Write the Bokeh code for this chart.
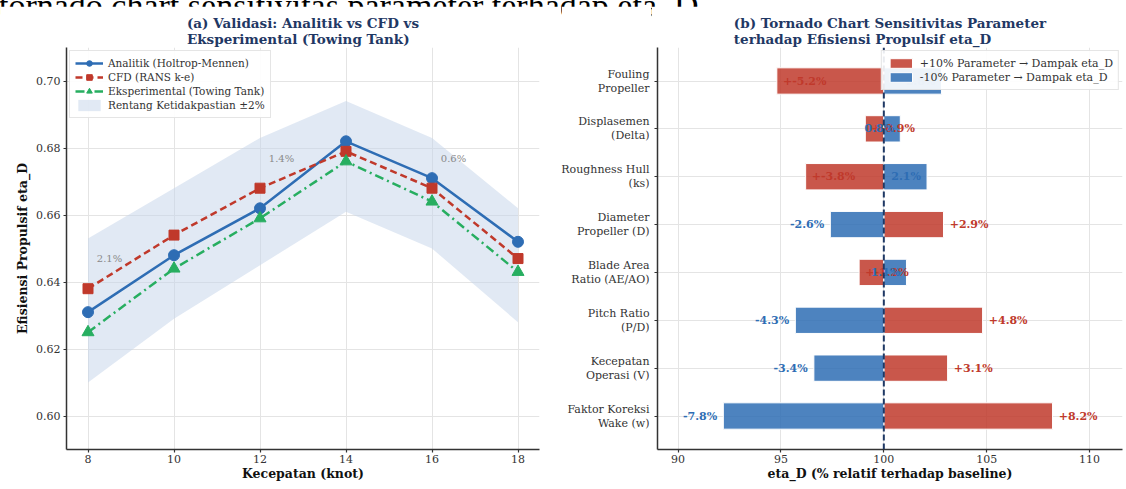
from bokeh.plotting import figure
from bokeh.models import (Legend, LegendItem, Span, Div, FixedTicker, Range1d,
                          NumeralTickFormatter)
from bokeh.layouts import row, column
from bokeh.embed import file_html
from bokeh.resources import INLINE
from bokeh.core.properties import value

# ---------------- data: panel (a) ----------------
speed = [8, 10, 12, 14, 16, 18]
analitik = [0.631, 0.648, 0.662, 0.682, 0.671, 0.652]
cfd = [0.638, 0.654, 0.668, 0.679, 0.668, 0.647]
eksperimental = [0.625, 0.644, 0.659, 0.676, 0.664, 0.643]
band_low = [0.610, 0.629, 0.645, 0.661, 0.650, 0.628]
band_high = [0.653, 0.668, 0.683, 0.694, 0.683, 0.662]
err_speed = [8, 12, 16]
err_labels = ["2.1%", "1.4%", "0.6%"]

# ---------------- data: panel (b) ----------------
params = ["Fouling\nPropeller", "Displasemen\n(Delta)", "Roughness Hull\n(ks)",
          "Diameter\nPropeller (D)", "Blade Area\nRatio (AE/AO)", "Pitch Ratio\n(P/D)",
          "Kecepatan\nOperasi (V)", "Faktor Koreksi\nWake (w)"]
plus10 = [-5.2, -0.9, -3.8, 2.9, -1.2, 4.8, 3.1, 8.2]
minus10 = [2.8, 0.8, 2.1, -2.6, 1.1, -4.3, -3.4, -7.8]
baseline = 100

FONT = "DejaVu Serif"
NAVY = "#1F3864"
BLUE = "#2E6DB4"
RED = "#C0392B"
GREEN = "#27AE60"
TXT = "#333333"
H = 477
TOP = 41
BOTTOM = 32


def style_axes(p):
    for ax in (p.xaxis[0], p.yaxis[0]):
        ax.axis_line_color = TXT
        ax.axis_line_width = 1.5
        ax.major_tick_line_color = TXT
        ax.major_tick_line_width = 1.2
        ax.major_tick_out = 3
        ax.major_tick_in = 0
        ax.minor_tick_line_color = None
        ax.major_label_text_font = FONT
        ax.major_label_text_font_size = "11px"
        ax.major_label_text_color = TXT
        ax.major_label_standoff = 2
        ax.axis_label_text_font = FONT
        ax.axis_label_text_font_size = "12.5px"
        ax.axis_label_text_font_style = "bold"
        ax.axis_label_text_color = "#111111"
        ax.axis_label_standoff = 0
    p.outline_line_color = None
    p.xgrid.grid_line_color = "#e4e4e4"
    p.ygrid.grid_line_color = "#e4e4e4"
    p.title.text_font = FONT
    p.title.text_font_size = "13.5px"
    p.title.text_font_style = "bold"
    p.title.text_color = NAVY
    p.title.align = "center"
    p.title.standoff = 2


# ---------------- panel (a) ----------------
p1 = figure(width=561, height=H, x_range=Range1d(7.5, 18.5), y_range=Range1d(0.59, 0.71),
            output_backend="svg", toolbar_location=None,
            min_border_left=66, min_border_right=22, min_border_top=TOP, min_border_bottom=BOTTOM,
            title="(a) Validasi: Analitik vs CFD vs\nEksperimental (Towing Tank)",
            x_axis_label="Kecepatan (knot)", y_axis_label="Efisiensi Propulsif eta_D")
style_axes(p1)
p1.yaxis.axis_label_standoff = 3
p1.yaxis.major_label_standoff = 3
p1.xaxis.ticker = FixedTicker(ticks=speed)
p1.yaxis.ticker = FixedTicker(ticks=[0.60, 0.62, 0.64, 0.66, 0.68, 0.70])
p1.yaxis.formatter = NumeralTickFormatter(format="0.00")

band = p1.varea(x=speed, y1=band_low, y2=band_high, fill_color="#c3d4ea", fill_alpha=0.5)
l1 = p1.line(speed, analitik, line_color=BLUE, line_width=2.5)
s1 = p1.scatter(speed, analitik, marker="circle", size=11, fill_color=BLUE, line_color=BLUE)
l2 = p1.line(speed, cfd, line_color=RED, line_width=2.5, line_dash="7 4")
s2 = p1.scatter(speed, cfd, marker="square", size=10, fill_color=RED, line_color=RED)
l3 = p1.line(speed, eksperimental, line_color=GREEN, line_width=2.5, line_dash="9 4 2 4")
s3 = p1.scatter(speed, eksperimental, marker="triangle", size=12, fill_color=GREEN, line_color=GREEN)

err_x = [s + 0.5 for s in err_speed]
err_y = [cfd[speed.index(s)] + 0.009 for s in err_speed]
p1.text(x=err_x, y=err_y, text=err_labels, text_font=value(FONT), text_font_size="10px",
        text_color="#8a8a8a", text_align="center", text_baseline="middle")

leg1 = Legend(items=[
    LegendItem(label="Analitik (Holtrop-Mennen)", renderers=[l1, s1]),
    LegendItem(label="CFD (RANS k-e)", renderers=[l2, s2]),
    LegendItem(label="Eksperimental (Towing Tank)", renderers=[l3, s3]),
    LegendItem(label="Rentang Ketidakpastian \u00b12%", renderers=[band]),
], location="top_left")
leg1.label_text_font = FONT
leg1.label_text_font_size = "10.5px"
leg1.label_text_color = TXT
leg1.margin = 3
leg1.padding = 5
leg1.spacing = 0
leg1.label_height = 14
leg1.glyph_height = 14
leg1.glyph_width = 28
leg1.border_line_color = "#cccccc"
leg1.background_fill_alpha = 0.9
p1.add_layout(leg1)

# ---------------- panel (b): category labels strip ----------------
ypos = [len(params) - 1 - i for i in range(len(params))]
yr = Range1d(-0.7, 7.7)
pl = figure(width=90, height=H, x_range=Range1d(0, 1), y_range=yr,
            output_backend="svg", toolbar_location=None,
            x_axis_location=None, y_axis_location=None,
            min_border_left=0, min_border_right=0, min_border_top=TOP, min_border_bottom=BOTTOM)
pl.outline_line_color = None
pl.grid.visible = False
first = [s.split("\n")[0] for s in params]
second = [s.split("\n")[1] for s in params]
for txt, dy in ((first, -7), (second, 7)):
    pl.text(x=[1] * len(params), y=ypos, text=txt, x_offset=-2, y_offset=dy,
            text_font=value(FONT), text_font_size="11px", text_color=TXT,
            text_align="right", text_baseline="middle")

# ---------------- panel (b): tornado ----------------
p2 = figure(width=473, height=H, x_range=Range1d(89, 111.6), y_range=yr,
            output_backend="svg", toolbar_location=None,
            min_border_left=6, min_border_right=2, min_border_top=TOP, min_border_bottom=BOTTOM,
            title="(b) Tornado Chart Sensitivitas Parameter\nterhadap Efisiensi Propulsif eta_D",
            x_axis_label="eta_D (% relatif terhadap baseline)")
style_axes(p2)
p2.xaxis.ticker = FixedTicker(ticks=[90, 95, 100, 105, 110])
p2.yaxis.ticker = FixedTicker(ticks=ypos)
p2.yaxis.major_label_overrides = {y: "" for y in ypos}
p2.yaxis.major_label_standoff = 0

hi_right = [baseline + v for v in plus10]
lo_right = [baseline + v for v in minus10]
r_red = p2.hbar(y=ypos, left=baseline, right=hi_right, height=0.55,
                fill_color=RED, fill_alpha=0.85, line_color="white", line_width=1)
r_blue = p2.hbar(y=ypos, left=baseline, right=lo_right, height=0.55,
                 fill_color=BLUE, fill_alpha=0.85, line_color="white", line_width=1)

p2.text(x=[h + 0.3 for h in hi_right], y=ypos, text=["+%s%%" % v for v in plus10],
        text_font=value(FONT), text_font_size="11px", text_font_style="bold",
        text_color=RED, text_align="left", text_baseline="middle")
p2.text(x=[l - 0.3 for l in lo_right], y=ypos, text=["%s%%" % v for v in minus10],
        text_font=value(FONT), text_font_size="11px", text_font_style="bold",
        text_color=BLUE, text_align="right", text_baseline="middle")

p2.add_layout(Span(location=baseline, dimension="height", line_color=NAVY,
                   line_width=2, line_dash="6 3"))

leg2 = Legend(items=[
    LegendItem(label="+10% Parameter \u2192 Dampak eta_D", renderers=[r_red]),
    LegendItem(label="-10% Parameter \u2192 Dampak eta_D", renderers=[r_blue]),
], location="top_right")
leg2.label_text_font = FONT
leg2.label_text_font_size = "11px"
leg2.label_text_color = TXT
leg2.margin = 3
leg2.padding = 5
leg2.spacing = 0
leg2.label_height = 14
leg2.glyph_height = 12
leg2.glyph_width = 28
leg2.border_line_color = "#cccccc"
leg2.background_fill_alpha = 0.9
p2.add_layout(leg2)

header = Div(text='<div style="margin-top:-37px;margin-left:-6px;white-space:nowrap;'
                  'font-family:\'Liberation Serif\';font-size:34px;line-height:34px;color:#000;">'
                  'tornado chart sensitivitas parameter terhadap eta_D.</div>',
             width=1100, height=0, styles={"overflow": "visible"})

charts = row(p1, pl, p2, styles={"margin-top": "-4px"})
layout = column(header, charts)
open("out.html", "w").write(file_html(layout, INLINE))
